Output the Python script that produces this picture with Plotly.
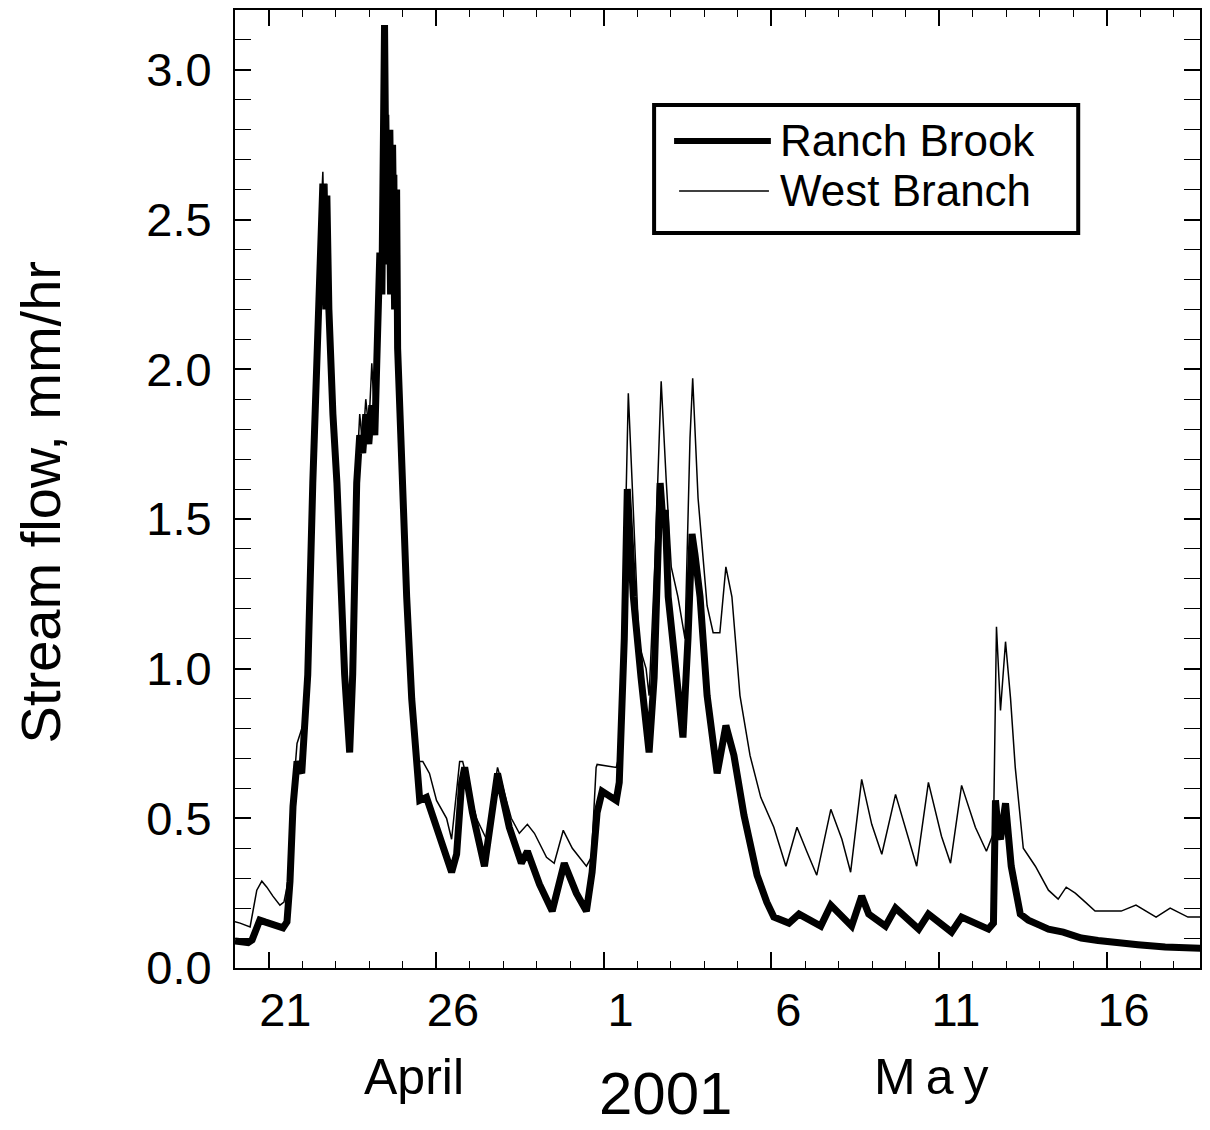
import plotly.graph_objects as go

# time: day number counted in April (April 20 = 20.0, May 1 = 31.0)
rb_day = [20.00, 20.39, 20.51, 20.74, 20.89, 21.43, 21.55, 21.64, 21.73, 21.85, 21.99, 22.08,
          22.17, 22.32, 22.47, 22.56, 22.62, 22.68, 22.71, 22.74, 22.80, 22.92, 23.04, 23.27,
          23.42, 23.51, 23.63, 23.72, 23.81, 23.90, 23.99, 24.08, 24.17, 24.23, 24.32, 24.38,
          24.44, 24.46, 24.52, 24.58, 24.64, 24.70, 24.76, 24.82, 24.85, 24.97, 25.12, 25.27,
          25.42, 25.51, 25.71, 25.80, 26.19, 26.46, 26.61, 26.76, 26.85, 27.08, 27.44, 27.83,
          28.18, 28.54, 28.72, 29.08, 29.46, 29.82, 30.18, 30.48, 30.65, 30.80, 30.95, 31.37,
          31.46, 31.61, 31.70, 31.79, 31.88, 32.11, 32.35, 32.50, 32.62, 32.68, 32.77, 32.83,
          32.92, 33.13, 33.36, 33.51, 33.63, 33.72, 33.87, 34.08, 34.38, 34.64, 34.88, 35.18,
          35.57, 35.86, 36.07, 36.52, 36.82, 37.47, 37.77, 38.39, 38.69, 38.90, 39.40, 39.70,
          40.39, 40.68, 41.37, 41.67, 42.47, 42.62, 42.68, 42.77, 42.83, 42.98, 43.15, 43.42,
          43.66, 43.96, 44.26, 44.70, 45.24, 45.74, 46.25, 46.93, 47.74, 48.42, 48.99]
rb_flow = [0.09, 0.085, 0.094, 0.16, 0.154, 0.134, 0.154, 0.29, 0.54, 0.69, 0.65, 0.80,
           0.98, 1.62, 2.20, 2.45, 2.62, 2.50, 2.20, 2.58, 2.20, 1.85, 1.62, 0.98,
           0.72, 0.98, 1.62, 1.78, 1.72, 1.85, 1.75, 1.88, 1.78, 2.03, 2.39, 2.25,
           2.90, 3.15, 2.35, 2.80, 2.25, 2.75, 2.20, 2.60, 2.07, 1.62, 1.24, 0.90,
           0.66, 0.56, 0.57, 0.54, 0.40, 0.32, 0.38, 0.62, 0.67, 0.52, 0.34, 0.65,
           0.47, 0.35, 0.39, 0.28, 0.19, 0.35, 0.25, 0.19, 0.32, 0.52, 0.59, 0.56,
           0.62, 1.10, 1.60, 1.45, 1.24, 0.97, 0.72, 0.97, 1.50, 1.62, 1.48, 1.53,
           1.24, 1.00, 0.77, 1.10, 1.45, 1.38, 1.24, 0.91, 0.65, 0.81, 0.71, 0.51,
           0.31, 0.22, 0.17, 0.15, 0.18, 0.14, 0.21, 0.14, 0.24, 0.18, 0.14, 0.20,
           0.13, 0.18, 0.12, 0.17, 0.13, 0.15, 0.56, 0.45, 0.43, 0.55, 0.34, 0.18,
           0.16, 0.145, 0.13, 0.12, 0.10, 0.092, 0.084, 0.078, 0.07, 0.068, 0.065]

wb_day = [20.00, 20.15, 20.45, 20.65, 20.80, 20.95, 21.13, 21.34, 21.46, 21.55, 21.64, 21.73,
          21.85, 21.99, 22.08, 22.17, 22.32, 22.47, 22.56, 22.62, 22.68, 22.74, 22.80, 22.92,
          23.04, 23.27, 23.42, 23.51, 23.63, 23.72, 23.81, 23.90, 23.99, 24.08, 24.17, 24.23,
          24.32, 24.38, 24.44, 24.46, 24.52, 24.58, 24.64, 24.70, 24.76, 24.82, 24.85, 24.97,
          25.12, 25.27, 25.42, 25.60, 25.80, 26.01, 26.31, 26.46, 26.70, 26.79, 27.20, 27.50,
          27.83, 28.24, 28.48, 28.72, 28.93, 29.29, 29.52, 29.79, 30.06, 30.48, 30.63, 30.77,
          30.80, 31.37, 31.46, 31.55, 31.73, 31.88, 32.05, 32.26, 32.35, 32.53, 32.71, 32.86,
          33.01, 33.21, 33.42, 33.57, 33.65, 33.81, 34.08, 34.26, 34.46, 34.64, 34.82, 35.06,
          35.36, 35.68, 36.07, 36.43, 36.76, 37.05, 37.35, 37.77, 38.10, 38.36, 38.69, 38.99,
          39.29, 39.70, 40.03, 40.33, 40.68, 41.07, 41.34, 41.67, 42.08, 42.41, 42.62, 42.71,
          42.83, 42.98, 43.13, 43.27, 43.51, 43.87, 44.26, 44.55, 44.79, 45.06, 45.36, 45.65,
          46.43, 46.87, 47.47, 47.89, 48.42, 48.99]
wb_flow = [0.155, 0.15, 0.137, 0.26, 0.29, 0.27, 0.24, 0.21, 0.22, 0.27, 0.35, 0.58,
           0.75, 0.80, 0.83, 1.00, 1.65, 2.25, 2.50, 2.66, 2.30, 2.62, 2.25, 1.88,
           1.65, 1.00, 0.74, 1.00, 1.65, 1.85, 1.74, 1.90, 1.80, 2.02, 1.82, 2.10,
           2.40, 2.30, 2.95, 3.15, 2.40, 2.85, 2.30, 2.80, 2.25, 2.65, 2.10, 1.66,
           1.30, 0.95, 0.69, 0.69, 0.65, 0.56, 0.50, 0.43, 0.69, 0.69, 0.50, 0.43,
           0.67, 0.50, 0.45, 0.48, 0.45, 0.37, 0.35, 0.46, 0.40, 0.34, 0.37, 0.67,
           0.68, 0.67, 0.71, 0.99, 1.92, 1.50, 1.08, 1.00, 0.91, 1.37, 1.96, 1.63,
           1.34, 1.24, 1.10, 1.77, 1.97, 1.57, 1.21, 1.12, 1.12, 1.34, 1.24, 0.91,
           0.71, 0.57, 0.47, 0.34, 0.47, 0.39, 0.31, 0.53, 0.43, 0.32, 0.63, 0.48,
           0.38, 0.58, 0.45, 0.34, 0.62, 0.44, 0.35, 0.61, 0.47, 0.39, 0.45, 1.14,
           0.86, 1.09, 0.90, 0.67, 0.40, 0.34, 0.26, 0.23, 0.27, 0.25, 0.22, 0.19,
           0.19, 0.21, 0.17, 0.20, 0.17, 0.17]

series_names = ["Ranch Brook", "West Branch"]
x_label_days = [21.5, 26.5, 31.5, 36.5, 41.5, 46.5]
x_label_text = ["21", "26", "1", "6", "11", "16"]
y_tick_vals = [0.0, 0.5, 1.0, 1.5, 2.0, 2.5, 3.0]
y_tick_text = ["0.0", "0.5", "1.0", "1.5", "2.0", "2.5", "3.0"]

FONT = "Liberation Sans, Arial, Helvetica, sans-serif"
XR = [20, 48.78]
RB_W, WB_W = 7, 1.5

fig = go.Figure()
fig.add_trace(go.Scatter(x=rb_day, y=rb_flow, mode="lines", name=series_names[0],
                         line=dict(color="black", width=RB_W), showlegend=False))
fig.add_trace(go.Scatter(x=wb_day, y=wb_flow, mode="lines", name=series_names[1],
                         line=dict(color="black", width=WB_W), showlegend=False))
# invisible trace on overlay axis carrying the day labels
fig.add_trace(go.Scatter(x=[XR[0]], y=[0], xaxis="x2", mode="markers",
                         marker=dict(opacity=0), showlegend=False, hoverinfo="skip"))

# legend box drawn in paper coordinates
LX0, LX1, LY0, LY1 = 0.4343, 0.8738, 0.7672, 0.9008
ROW1, ROW2 = 0.8633, 0.8111
shapes = [
    dict(type="rect", xref="paper", yref="paper", x0=LX0, x1=LX1, y0=LY0, y1=LY1,
         line=dict(color="black", width=4), fillcolor="white", layer="above"),
    dict(type="line", xref="paper", yref="paper", x0=0.4550, x1=0.5553, y0=ROW1, y1=ROW1,
         line=dict(color="black", width=6), layer="above"),
    dict(type="line", xref="paper", yref="paper", x0=0.4602, x1=0.5533, y0=ROW2, y1=ROW2,
         line=dict(color="black", width=WB_W), layer="above"),
]

annotations = [
    dict(text=series_names[0], x=0.5636, y=ROW1, xref="paper", yref="paper",
         showarrow=False, font=dict(size=44, family=FONT), xanchor="left", yanchor="middle",
         borderpad=0),
    dict(text=series_names[1], x=0.5636, y=ROW2, xref="paper", yref="paper",
         showarrow=False, font=dict(size=44, family=FONT), xanchor="left", yanchor="middle",
         borderpad=0),
    dict(text="Stream flow, mm/hr", x=-0.2017, y=0.4864, xref="paper", yref="paper",
         textangle=-90, showarrow=False, font=dict(size=56, family=FONT),
         xanchor="center", yanchor="middle", borderpad=0),
    dict(text="April", x=0.186, y=-0.1138, xref="paper", yref="paper",
         showarrow=False, font=dict(size=50, family=FONT),
         xanchor="center", yanchor="middle"),
    dict(text="M\u2009a\u2009y", x=0.721, y=-0.1138, xref="paper", yref="paper",
         showarrow=False, font=dict(size=50, family=FONT),
         xanchor="center", yanchor="middle"),
    dict(text="2001", x=0.4457, y=-0.1315, xref="paper", yref="paper",
         showarrow=False, font=dict(size=60, family=FONT),
         xanchor="center", yanchor="middle"),
]

fig.update_layout(
    width=1194, height=1122,
    margin=dict(l=227, r=0, t=2, b=162),
    paper_bgcolor="white", plot_bgcolor="white",
    font=dict(family=FONT, color="black", size=47),
    showlegend=False,
    xaxis=dict(range=XR, tickmode="linear", tick0=21, dtick=5,
               ticks="inside", ticklen=16, tickwidth=1.5, tickcolor="black",
               minor=dict(tick0=20, dtick=1, ticks="inside", ticklen=7,
                          tickwidth=1.2, tickcolor="black"),
               showticklabels=False, showgrid=False, zeroline=False,
               showline=True, linecolor="black", linewidth=2, mirror="allticks"),
    xaxis2=dict(range=XR, overlaying="x", matches="x", anchor="y", side="bottom",
                tickmode="array", tickvals=x_label_days, ticktext=x_label_text,
                ticks="", showgrid=False, zeroline=False, showline=False,
                tickfont=dict(size=47), ticklabelstandoff=10),
    yaxis=dict(range=[0, 3.2], tickmode="array", tickvals=y_tick_vals, ticktext=y_tick_text,
               ticks="inside", ticklen=16, tickwidth=1.5, tickcolor="black",
               minor=dict(tick0=0, dtick=0.1, ticks="inside", ticklen=5,
                          tickwidth=1.2, tickcolor="black"),
               tickfont=dict(size=47), ticklabelstandoff=12,
               showgrid=False, zeroline=False,
               showline=True, linecolor="black", linewidth=2, mirror="allticks"),
    shapes=shapes,
    annotations=annotations,
)

fig.write_html("out.html")
